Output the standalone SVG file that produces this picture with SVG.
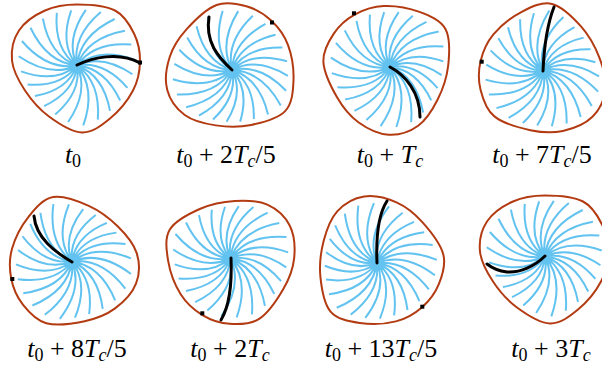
<svg xmlns="http://www.w3.org/2000/svg" width="602" height="366" viewBox="0 0 602 366">
<style>
.outline{fill:none;stroke:#b33b12;stroke-width:2}
.spokes{fill:none;stroke:#63c3f0;stroke-width:2}
.mat{fill:none;stroke:#000;stroke-width:3;stroke-linecap:round}
.mk{fill:#000}
.lbl{font-family:"Liberation Serif","Times New Roman",serif;font-size:26px;fill:#000}
.i{font-style:italic}
.sub{font-size:18px}
</style>
<defs>
<g id="body">
<path class="spokes" d="M0,0Q27.2,-4.8 50.4,22.4M0,0Q27.7,2.4 43.2,35M0,0Q26.4,9.6 33,45.4M0,0Q23.7,16.6 20.8,54.1M0,0Q19.3,23.1 6.3,59.9M0,0Q12.1,25.9 -8.9,56.5M0,0Q4.7,26.4 -21.8,49M0,0Q-2.3,26.1 -32.9,40.6M0,0Q-8.9,24.4 -42.1,30.6M0,0Q-15.2,21.7 -49.5,19M0,0Q-21.6,18.1 -56,5.9M0,0Q-26.7,12.5 -58.3,-9.2M0,0Q-29.7,5.2 -55.1,-24.5M0,0Q-29.8,-2.6 -46.5,-37.7M0,0Q-27.3,-9.9 -34.1,-46.9M0,0Q-23.1,-16.2 -20.2,-52.7M0,0Q-17.8,-21.2 -5.8,-55.1M0,0Q-11.9,-25.5 8.8,-55.6M0,0Q-5.1,-28.9 23.8,-53.5M0,0Q2.6,-29.8 37.7,-46.5M0,0Q10.1,-27.8 47.9,-34.8M0,0Q16.7,-23.8 54.3,-20.9M0,0Q21.8,-18.3 56.7,-6M0,0Q25.4,-11.9 55.4,8.8"/>
<path class="outline" d="M0,-61 C11.67,-61 28.5,-59.83 38,-55 C47.5,-50.17 52.83,-40.5 57,-32 C61.17,-23.5 63.17,-13.5 63,-4 C62.83,5.5 61,15.5 56,25 C51,34.5 41.5,46 33,53 C24.5,60 15.17,67.33 5,67 C-5.17,66.67 -18.5,58 -28,51 C-37.5,44 -45.830,34.33 -52,25 C-58.17,15.67 -64,5 -65,-5 C-66,-15 -63.5,-26.67 -58,-35 C-52.5,-43.33 -41.67,-50.67 -32,-55 C-22.33,-59.33 -11.67,-61 0,-61Z"/>
</g>
</defs>
<g id="panel1">
<use href="#body" transform="translate(77,65.5)"/>
<path class="mat" d="M77,65 C92,58 118,51 140,63"/>
<rect class="mk" x="138" y="60.5" width="4" height="4"/>
<text class="lbl" x="73" y="163" text-anchor="middle"><tspan class="i">t</tspan><tspan class="sub" dy="4">0</tspan></text>
</g>
<g id="panel2">
<use href="#body" transform="translate(232,70) rotate(-48)"/>
<path class="mat" d="M232,70 C218,57 205,42 209,17"/>
<rect class="mk" x="270" y="20.5" width="4" height="4"/>
<text class="lbl" x="226" y="163" text-anchor="middle"><tspan class="i">t</tspan><tspan class="sub" dy="4">0</tspan><tspan dy="-4"> + 2</tspan><tspan class="i">T</tspan><tspan class="i sub" dy="4">c</tspan><tspan dy="-4">/5</tspan></text>
</g>
<g id="panel3">
<use href="#body" transform="translate(390,67) rotate(-120)"/>
<path class="mat" d="M390,67 C405,75 420,92 420,117"/>
<rect class="mk" x="352" y="11.3" width="4" height="4"/>
<text class="lbl" x="390" y="163" text-anchor="middle"><tspan class="i">t</tspan><tspan class="sub" dy="4">0</tspan><tspan dy="-4"> + </tspan><tspan class="i">T</tspan><tspan class="i sub" dy="4">c</tspan></text>
</g>
<g id="panel4">
<use href="#body" transform="translate(543,70.5) rotate(-168)"/>
<path class="mat" d="M543,71 C544,48 547,25 554,7"/>
<rect class="mk" x="479.7" y="59.7" width="4" height="4"/>
<text class="lbl" x="542" y="163" text-anchor="middle"><tspan class="i">t</tspan><tspan class="sub" dy="4">0</tspan><tspan dy="-4"> + 7</tspan><tspan class="i">T</tspan><tspan class="i sub" dy="4">c</tspan><tspan dy="-4">/5</tspan></text>
</g>
<g id="panel5">
<use href="#body" transform="translate(72,261.5) rotate(-192)"/>
<path class="mat" d="M72,262 C55,252 36,238 34,216"/>
<rect class="mk" x="10.3" y="277" width="4" height="4"/>
<text class="lbl" x="77" y="357" text-anchor="middle"><tspan class="i">t</tspan><tspan class="sub" dy="4">0</tspan><tspan dy="-4"> + 8</tspan><tspan class="i">T</tspan><tspan class="i sub" dy="4">c</tspan><tspan dy="-4">/5</tspan></text>
</g>
<g id="panel6">
<use href="#body" transform="translate(230.5,258.5) rotate(-240)"/>
<path class="mat" d="M231,258 C232,282 230,305 221,320"/>
<rect class="mk" x="200.3" y="311.3" width="4" height="4"/>
<text class="lbl" x="230" y="357" text-anchor="middle"><tspan class="i">t</tspan><tspan class="sub" dy="4">0</tspan><tspan dy="-4"> + 2</tspan><tspan class="i">T</tspan><tspan class="i sub" dy="4">c</tspan></text>
</g>
<g id="panel7">
<use href="#body" transform="translate(377,263) rotate(-312)"/>
<path class="mat" d="M377,263 C376,240 378,215 387,201"/>
<rect class="mk" x="420.3" y="304.7" width="4" height="4"/>
<text class="lbl" x="381" y="357" text-anchor="middle"><tspan class="i">t</tspan><tspan class="sub" dy="4">0</tspan><tspan dy="-4"> + 13</tspan><tspan class="i">T</tspan><tspan class="i sub" dy="4">c</tspan><tspan dy="-4">/5</tspan></text>
</g>
<g id="panel8">
<use href="#body" transform="translate(545,256.5) rotate(-360)"/>
<path class="mat" d="M545,256 C535,266 520,273 507,272 C499,271 492,268 487,264"/>
<text class="lbl" x="551" y="357" text-anchor="middle"><tspan class="i">t</tspan><tspan class="sub" dy="4">0</tspan><tspan dy="-4"> + 3</tspan><tspan class="i">T</tspan><tspan class="i sub" dy="4">c</tspan></text>
</g>
</svg>
